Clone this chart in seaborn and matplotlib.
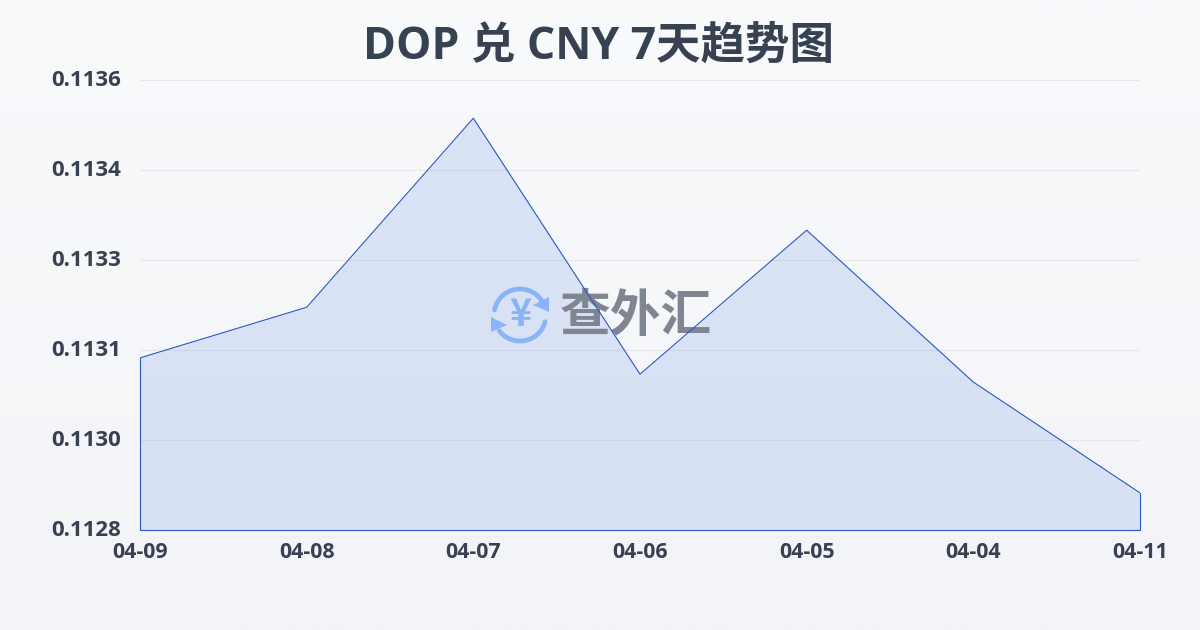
import numpy as np
import pandas as pd
import matplotlib
matplotlib.use('Agg')
import matplotlib.pyplot as plt
import matplotlib.transforms as mtrans
from matplotlib.colors import LinearSegmentedColormap
from matplotlib.patches import Polygon
import seaborn as sns

dates = ['04-09', '04-08', '04-07', '04-06', '04-05', '04-04', '04-11']
rates = [0.113106, 0.113196, 0.113532, 0.113077, 0.113333, 0.113063, 0.112866]
y_ticks = [0.1128, 0.11296, 0.11312, 0.11328, 0.11344, 0.1136]
y_labels = ['0.1128', '0.1130', '0.1131', '0.1133', '0.1134', '0.1136']
title = 'DOP 兑 CNY 7天趋势图'

sns.set_theme(style='white')
plt.rcParams['font.family'] = ['Open Sans', 'Noto Sans CJK SC', 'DejaVu Sans']

line_col = '#2a58bf'
text_col = '#374151'
logo_blue = '#8ab4f8'

fig = plt.figure(figsize=(12, 6.3), dpi=100)

# background gradient
axbg = fig.add_axes([0, 0, 1, 1], zorder=0)
cmap = LinearSegmentedColormap.from_list('bg', ['#f8fafc', '#f3f4f7'])
axbg.imshow(np.linspace(0, 1, 256).reshape(-1, 1), aspect='auto', cmap=cmap)
axbg.axis('off')

ax = fig.add_axes([140 / 1200, 100 / 630, 1000 / 1200, 450 / 630], zorder=1)
ax.patch.set_alpha(0)

df = pd.DataFrame({'date': dates, 'rate': rates})
xpos = np.arange(len(dates))
ax.fill_between(xpos, rates, y_ticks[0], facecolor='#3b6fe0', alpha=0.15, lw=0, zorder=2)
sns.lineplot(x=xpos, y=df['rate'], ax=ax, color=line_col, lw=0.8, zorder=5)
ax.plot([xpos[0], xpos[0], xpos[-1], xpos[-1]], [rates[0], y_ticks[0], y_ticks[0], rates[-1]],
         color=line_col, lw=0.8, zorder=5, clip_on=False)

ax.set_xlim(xpos[0], xpos[-1])
ax.set_ylim(y_ticks[0], y_ticks[-1])
ax.set_xlabel('')
ax.set_ylabel('')
ax.set_xticks(xpos, dates)
ax.set_yticks(y_ticks, y_labels)
ax.grid(axis='y', color='#e5e7eb', lw=0.8, zorder=1)
ax.set_axisbelow(True)
sns.despine(ax=ax, left=True, bottom=True, top=True, right=True)
ax.tick_params(axis='x', length=6, width=0.6, color='#eef0f3', pad=3, labelsize=15.4, labelcolor=text_col)
ax.tick_params(axis='y', length=0, pad=13.5, labelsize=16, labelcolor=text_col)
for t in ax.get_xticklabels() + ax.get_yticklabels():
    t.set_fontweight('bold')
shift = mtrans.ScaledTranslation(0, 2 / 100, fig.dpi_scale_trans)
for t in ax.get_yticklabels():
    t.set_transform(t.get_transform() + shift)

fig.text(0.4985, 1 - 47 / 630, title, ha='center', va='center', fontsize=32,
         fontweight='bold', color='#364152')

# watermark, pixel coords from the top left
px = mtrans.Affine2D().scale(1, -1).translate(0, 630)
ax.text(636, 316, '查外汇', transform=px, ha='center', va='center', fontsize=36.5,
        fontweight='bold', color='#7f8591', zorder=4, family='Noto Sans CJK SC')
ax.text(520, 315, '¥', transform=px, ha='center', va='center', fontsize=27,
        fontweight='bold', color=logo_blue, zorder=4, family='Noto Sans CJK SC')
for a, b in [(-169, -34), (15, 143)]:
    t = np.radians(np.linspace(a, b, 60))
    ax.plot(520 + 26 * np.cos(t), 315 + 26 * np.sin(t), transform=px, color=logo_blue,
            lw=3.4, solid_capstyle='round', zorder=4, clip_on=False)
for tri in [[(533, 305), (549, 297), (549, 312)], [(491, 317), (491, 332), (507, 325)]]:
    ax.add_patch(Polygon(tri, closed=True, transform=px, facecolor=logo_blue, edgecolor='none', zorder=4))

plt.savefig('out.png', dpi=100)
